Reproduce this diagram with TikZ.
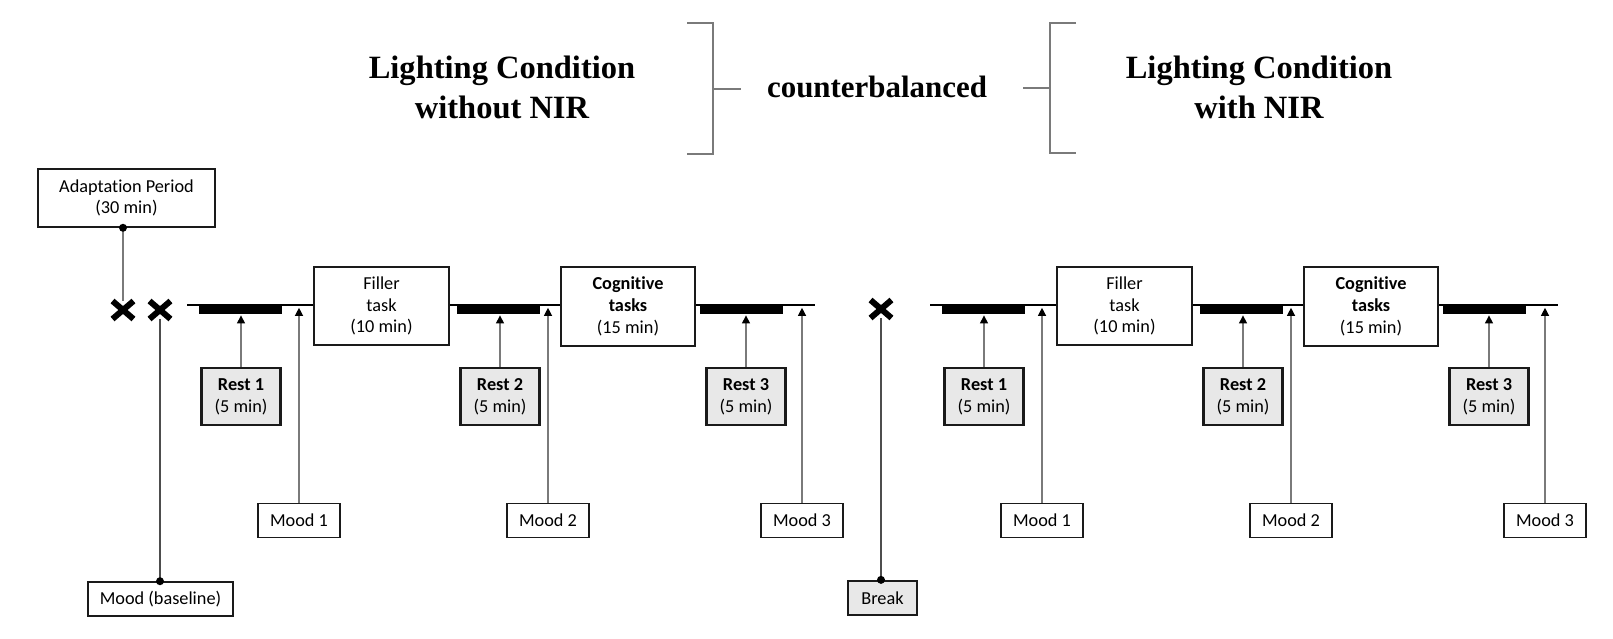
\documentclass[tikz,border=0pt]{standalone}
\usepackage{fontspec}
\setmainfont{Liberation Serif}
\newfontfamily\calib[Ligatures=NoCommon]{Carlito}
\usetikzlibrary{arrows.meta, shapes.misc}
\definecolor{Dark}{HTML}{1A1A1A}
\definecolor{Wire}{HTML}{7A7A7A}
\definecolor{Tie}{HTML}{4D4D4D}
\definecolor{RestFill}{HTML}{E8E8E8}
\tikzset{
    title/.style={align=center, inner sep=0pt, text=black, font=\bfseries\fontsize{18.5}{22.7}\selectfont},
    taskbox/.style={rectangle, draw=Dark, line width=0.9pt, fill=white, align=center, inner sep=0pt, font=\calib\fontsize{10.4}{12.4}\selectfont},
    restbox/.style={taskbox, fill=RestFill, line width=1.3pt, minimum width=1.58cm, minimum height=1.14cm},
    moodbox/.style={taskbox, minimum width=1.64cm, minimum height=0.68cm},
    restbar/.style={rectangle, fill=black, inner sep=0pt, minimum width=1.66cm, minimum height=0.18cm},
    xmark/.style={cross out, draw=black, line width=3.4pt, inner sep=0pt, minimum width=0.3cm, minimum height=0.24cm},
    timeline/.style={black, line width=1.1pt},
    probe/.style={-{Triangle[width=4.6pt, length=4.6pt, color=black]}, Wire, line width=0.7pt},
    wire/.style={Wire, line width=0.7pt},
    tie/.style={Tie, line width=0.8pt},
    bracket/.style={Wire, line width=0.75pt},
}
\begin{document}
\begin{tikzpicture}[x=0.02cm, y=-0.02cm]
    \useasboundingbox (0,0) rectangle (1613,639);

    % Titoli e parentesi
    \node[title] (condA) at (502,87) {Lighting Condition\\without NIR};
    \node[title] (condB) at (1259,87) {Lighting Condition\\with NIR};
    \node[title, anchor=base, font=\bfseries\fontsize{17.6}{21}\selectfont] (cb) at (877,97) {counterbalanced};
    \draw[bracket] (687,23) -- (713,23) -- (713,154) -- (687,154);
    \draw[bracket] (713,89) -- (741,89);
    \draw[bracket] (1076,23) -- (1050,23) -- (1050,153) -- (1076,153);
    \draw[bracket] (1023,88) -- (1050,88);

    % Marcatori iniziali e pausa
    \node[taskbox, minimum width=3.54cm, minimum height=1.16cm] (adapt) at (126.5,198) {Adaptation Period\\(30 min)};
    \node[xmark] (x1) at (123,310) {};
    \node[xmark] (x2) at (160,310) {};
    \node[xmark] (x3) at (881,309) {};
    \node[taskbox, minimum width=2.9cm, minimum height=0.68cm] (base) at (160.5,599) {Mood (baseline)};
    \node[restbox, minimum width=1.38cm, minimum height=0.68cm] (brk) at (882.5,598) {Break};
    \draw[wire] (x1 |- adapt.south) -- (x1);
    \fill[black] (x1 |- adapt.south) circle[radius=4];
    \draw[tie] (base.north -| x2) -- (x2);
    \fill[black] (base.north -| x2) circle[radius=4];
    \draw[tie] (brk.north -| x3) -- (x3);
    \fill[black] (brk.north -| x3) circle[radius=4];

    % Le due sessioni
    \foreach \s/\c in {0/a, 743/b} {
        \begin{scope}[shift={(\s,0)}]
            \coordinate (t0\c) at (187,305);
            \coordinate (t1\c) at (815,305);
            \draw[timeline] (t0\c) -- (t1\c);
            \node[taskbox, minimum width=2.7cm, minimum height=1.56cm] (fill\c) at (381.5,306) {Filler\\task\\(10 min)};
            \node[taskbox, minimum width=2.68cm, minimum height=1.58cm] (cog\c) at (628,306.5) {\textbf{Cognitive}\\\textbf{tasks}\\(15 min)};
            \foreach \i/\bx/\rx/\mx in {1/240.5/241/299, 2/498.5/500/548, 3/741/746/802} {
                \node[restbar] (b\i\c) at (\bx,309.5) {};
                \node[restbox] (r\i\c) at (\rx,396.5) {\textbf{Rest \i}\\(5 min)};
                \node[moodbox] (m\i\c) at (\mx,520.5) {Mood \i};
                \draw[probe, shorten >=0.6pt] (r\i\c.north) -- (r\i\c.north |- b\i\c.south);
                \draw[probe, shorten >=1.6pt] (m\i\c.north) -- (m\i\c.north |- t0\c);
            }
        \end{scope}
    }
\end{tikzpicture}
\end{document}
